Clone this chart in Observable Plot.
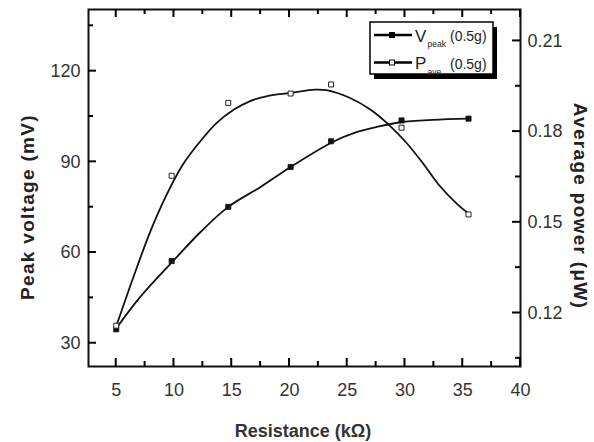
<!DOCTYPE html>
<html>
<head>
<meta charset="utf-8">
<script src="https://cdn.jsdelivr.net/npm/d3@7"></script>
<script src="https://cdn.jsdelivr.net/npm/@observablehq/plot@0.6"></script>
<style>
  body { margin: 0; background: #fff; overflow: hidden; }
  #chart svg { display: block; }
</style>
</head>
<body>
<div id="chart"></div>
<script>
// Measured data points
const resistance = [5, 9.8, 14.7, 20.1, 23.6, 29.7, 35.5];          // kΩ
const peakVoltage = [34.6, 57.2, 75.1, 88.3, 96.8, 103.7, 104.3];   // mV
const avgPower = [0.1158, 0.1654, 0.1895, 0.1926, 0.1956, 0.1813, 0.1526]; // μW

// Fitted curves as drawn in the figure
const fitVR = [5, 7.1, 10, 12.3, 14.7, 17.5, 20.1, 23.7, 25.8, 27.5, 29.6, 32.4, 35.5];
const fitV  = [34.9, 45.4, 57.5, 66.8, 75.1, 81.7, 88.3, 96.5, 99.8, 101.5, 103.1, 103.9, 104.3];
const fitPR = [5, 6.5, 8, 9.4, 10.8, 12.3, 13.7, 15.2, 16.6, 18, 20.1, 22.2, 23.2, 25.2, 27, 28.7, 30.1, 31.6, 33, 34.5, 35.5];
const fitP  = [0.1156, 0.1320, 0.1474, 0.1594, 0.1693, 0.1769, 0.1829, 0.1873, 0.1901, 0.1917, 0.1928, 0.1939, 0.1937, 0.1912, 0.1873, 0.1819, 0.1764, 0.1693, 0.1621, 0.1561, 0.1529];

// Ticks
const xTicks = [5, 10, 15, 20, 25, 30, 35, 40];
const xMinor = [7.5, 12.5, 17.5, 22.5, 27.5, 32.5, 37.5];
const leftTicks = [30, 60, 90, 120];
const leftMinor = [45, 75, 105, 135];
const rightTicks = [0.12, 0.15, 0.18, 0.21];
const rightMinor = [0.105, 0.135, 0.165, 0.195];

// Titles and legend labels
const xTitle = "Resistance (kΩ)";
const leftTitle = "Peak voltage (mV)";
const rightTitle = "Average power (μW)";
const seriesMain = ["V", "P"];
const seriesSub = ["peak", "ave"];
const seriesNote = ["(0.5g)", "(0.5g)"];

// Right axis (power) mapped onto the left (voltage) scale
const P2V = p => 40 + (p - 0.12) * 1000;
const V2P = v => 0.12 + (v - 40) / 1000;

const W = 594, H = 442;
const mL = 88, mR = 74, mT = 9, mB = 76;
const xDom = [2.6, 40], yDom = [22.3, 140.4];

const vData = resistance.map((r, i) => ({r, v: peakVoltage[i]}));
const pData = resistance.map((r, i) => ({r, v: P2V(avgPower[i])}));
const vFit = fitVR.map((r, i) => ({r, v: fitV[i]}));
const pFit = fitPR.map((r, i) => ({r, v: P2V(fitP[i])}));

const ink = "#111";

const chart = Plot.plot({
  width: W, height: H,
  marginLeft: mL, marginRight: mR, marginTop: mT, marginBottom: mB,
  style: {fontFamily: "'Liberation Sans', Arial, sans-serif", fontSize: "18px", color: "#333", background: "#fff"},
  x: {domain: xDom},
  y: {domain: yDom},
  marks: [
    Plot.axisX({ticks: xTicks, tickSize: 0, tickPadding: 17, label: null}),
    Plot.axisY({ticks: leftTicks, tickSize: 0, tickPadding: 8, label: null}),
    Plot.axisY({anchor: "right", ticks: rightTicks.map(P2V), tickFormat: v => V2P(v).toFixed(2), tickSize: 0, tickPadding: 7, label: null}),
    Plot.frame({stroke: ink, strokeWidth: 2}),
    Plot.line(pFit, {x: "r", y: "v", stroke: ink, strokeWidth: 1.8, curve: "catmull-rom"}),
    Plot.line(vFit, {x: "r", y: "v", stroke: ink, strokeWidth: 1.8, curve: "catmull-rom"}),
    Plot.dot(vData, {x: "r", y: "v", symbol: "square", r: 2.9, fill: ink, stroke: ink, strokeWidth: 0.8}),
    Plot.dot(pData, {x: "r", y: "v", symbol: "square", r: 2.8, fill: "#fff", stroke: "#222", strokeWidth: 1})
  ]
});

document.getElementById("chart").appendChild(chart);

const svg = d3.select(chart);
const sx = chart.scale("x"), sy = chart.scale("y");
const X = v => sx.apply(v), Y = v => sy.apply(v);
const x0 = mL, x1 = W - mR, y0 = H - mB, y1 = mT;

// Inward ticks on all four sides, placed through Plot's own scales
const tg = svg.append("g").attr("stroke", "#000").attr("stroke-width", 2).attr("stroke-linecap", "butt");
const tick = (xa, ya, xb, yb) => tg.append("line").attr("x1", xa).attr("y1", ya).attr("x2", xb).attr("y2", yb);
const MAJ = 8, MIN = 5;
xTicks.forEach(v => { tick(X(v), y0, X(v), y0 - MAJ); tick(X(v), y1, X(v), y1 + MAJ); });
xMinor.forEach(v => { tick(X(v), y0, X(v), y0 - MIN); tick(X(v), y1, X(v), y1 + MIN); });
leftTicks.forEach(v => tick(x0, Y(v), x0 + MAJ, Y(v)));
leftMinor.forEach(v => tick(x0, Y(v), x0 + MIN, Y(v)));
rightTicks.forEach(p => tick(x1, Y(P2V(p)), x1 - MAJ, Y(P2V(p))));
rightMinor.forEach(p => tick(x1, Y(P2V(p)), x1 - MIN, Y(P2V(p))));

// Titles
const titleFont = "'Liberation Sans', Arial, sans-serif";
svg.append("text")
  .attr("transform", "translate(27,207) rotate(-90)")
  .attr("text-anchor", "middle").attr("dominant-baseline", "central")
  .style("font-family", titleFont).style("font-weight", "bold").style("font-size", "19px")
  .style("letter-spacing", "1.3px").style("fill", "#222")
  .text(leftTitle);

svg.append("text")
  .attr("transform", "translate(580,206) rotate(90)")
  .attr("text-anchor", "middle").attr("dominant-baseline", "central")
  .style("font-family", titleFont).style("font-weight", "bold").style("font-size", "19px")
  .style("letter-spacing", "1.3px").style("fill", "#222")
  .text(rightTitle);

svg.append("text")
  .attr("x", 303).attr("y", 431)
  .attr("text-anchor", "middle").attr("dominant-baseline", "central")
  .style("font-family", titleFont).style("font-weight", "bold").style("font-size", "18px")
  .style("fill", "#333")
  .text(xTitle);

// Legend
const lg = svg.append("g");
lg.append("rect").attr("x", 374).attr("y", 27).attr("width", 123).attr("height", 52).attr("fill", "#000");
lg.append("rect").attr("x", 370).attr("y", 22).attr("width", 123).attr("height", 52)
  .attr("fill", "#fff").attr("stroke", "#000").attr("stroke-width", 1.5);

const legFont = "'Liberation Sans', Arial, sans-serif";
const rowY = [35, 62.5];
seriesMain.forEach((m, i) => {
  const y = rowY[i];
  lg.append("line").attr("x1", 374).attr("x2", 412).attr("y1", y).attr("y2", y)
    .attr("stroke", "#000").attr("stroke-width", 2.5);
  lg.append("rect").attr("x", 389.5).attr("y", y - 2.5).attr("width", 5).attr("height", 5)
    .attr("fill", i === 0 ? "#000" : "#fff").attr("stroke", "#000").attr("stroke-width", 1);
  lg.append("text").attr("x", 415).attr("y", y + 6.5).attr("text-anchor", "start")
    .style("font-family", legFont).style("font-size", "17px").style("fill", "#222").text(m);
  lg.append("text").attr("x", 427.5).attr("y", y + 12).attr("text-anchor", "start")
    .style("font-family", legFont).style("font-size", "8.5px").style("fill", "#222").text(seriesSub[i]);
  lg.append("text").attr("x", 450).attr("y", y + 6).attr("text-anchor", "start")
    .style("font-family", legFont).style("font-size", "14px").style("fill", "#222").text(seriesNote[i]);
});
</script>
</body>
</html>
